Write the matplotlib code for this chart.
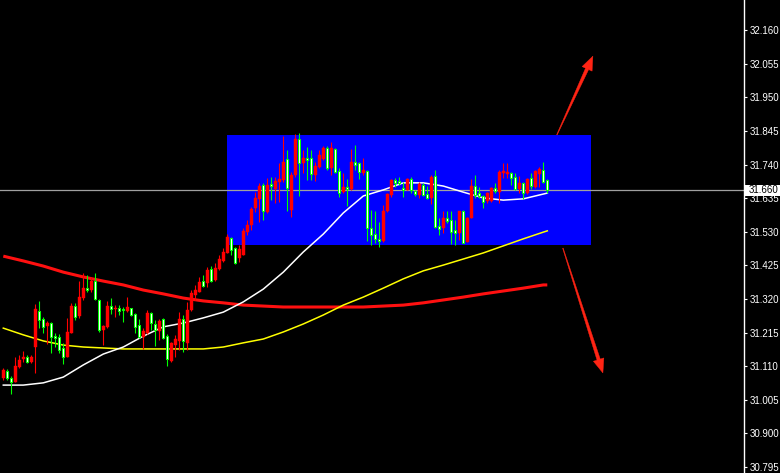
import matplotlib
matplotlib.use("Agg")
import matplotlib.pyplot as plt
import numpy as np
from matplotlib.patches import Rectangle, Polygon

# ---- OHLC series (one entry per bar) ----
opens = [31.073, 31.095, 31.073, 31.061, 31.108, 31.133, 31.139, 31.123, 31.170, 31.283,
         31.258, 31.236, 31.245, 31.204, 31.201, 31.167, 31.139, 31.214, 31.298, 31.267,
         31.323, 31.354, 31.348, 31.376, 31.317, 31.223, 31.233, 31.298, 31.289, 31.292,
         31.289, 31.283, 31.292, 31.273, 31.239, 31.201, 31.214, 31.276, 31.242, 31.220,
         31.258, 31.204, 31.126, 31.176, 31.189, 31.258, 31.183, 31.286, 31.333, 31.342,
         31.376, 31.370, 31.414, 31.379, 31.414, 31.439, 31.464, 31.511, 31.479, 31.448,
         31.458, 31.529, 31.551, 31.604, 31.633, 31.676, 31.592, 31.679, 31.664, 31.686,
         31.692, 31.758, 31.598, 31.708, 31.820, 31.745, 31.761, 31.761, 31.708, 31.733,
         31.758, 31.792, 31.729, 31.789, 31.720, 31.654, 31.670, 31.664, 31.748, 31.745,
         31.714, 31.720, 31.542, 31.523, 31.508, 31.501, 31.595, 31.645, 31.692, 31.689,
         31.667, 31.661, 31.695, 31.658, 31.645, 31.676, 31.648, 31.636, 31.704, 31.548,
         31.542, 31.573, 31.567, 31.536, 31.526, 31.595, 31.498, 31.573, 31.673, 31.651,
         31.642, 31.626, 31.626, 31.667, 31.654, 31.714, 31.711, 31.714, 31.701, 31.664,
         31.683, 31.651, 31.698, 31.670, 31.711, 31.723, 31.692]
highs = [31.104, 31.101, 31.079, 31.139, 31.145, 31.158, 31.145, 31.145, 31.304, 31.314,
         31.264, 31.251, 31.248, 31.214, 31.211, 31.183, 31.261, 31.308, 31.308, 31.376,
         31.401, 31.395, 31.389, 31.401, 31.320, 31.239, 31.314, 31.323, 31.301, 31.301,
         31.295, 31.326, 31.292, 31.276, 31.258, 31.229, 31.286, 31.279, 31.254, 31.258,
         31.261, 31.211, 31.186, 31.208, 31.279, 31.270, 31.311, 31.348, 31.364, 31.389,
         31.395, 31.420, 31.423, 31.433, 31.458, 31.479, 31.523, 31.514, 31.483, 31.489,
         31.542, 31.567, 31.608, 31.654, 31.683, 31.683, 31.698, 31.701, 31.701, 31.745,
         31.829, 31.786, 31.717, 31.836, 31.839, 31.786, 31.795, 31.786, 31.748, 31.786,
         31.798, 31.798, 31.811, 31.792, 31.729, 31.714, 31.695, 31.789, 31.801, 31.748,
         31.761, 31.723, 31.598, 31.595, 31.561, 31.614, 31.651, 31.695, 31.698, 31.701,
         31.686, 31.698, 31.701, 31.661, 31.686, 31.683, 31.673, 31.708, 31.723, 31.573,
         31.595, 31.595, 31.595, 31.567, 31.595, 31.598, 31.576, 31.695, 31.708, 31.670,
         31.645, 31.654, 31.670, 31.683, 31.723, 31.745, 31.745, 31.717, 31.714, 31.704,
         31.686, 31.698, 31.714, 31.723, 31.733, 31.748, 31.695]
lows = [31.067, 31.067, 31.023, 31.061, 31.104, 31.123, 31.120, 31.120, 31.089, 31.229,
        31.214, 31.179, 31.151, 31.170, 31.151, 31.117, 31.139, 31.214, 31.254, 31.261,
        31.317, 31.342, 31.342, 31.317, 31.217, 31.176, 31.229, 31.273, 31.264, 31.270,
        31.248, 31.279, 31.267, 31.214, 31.198, 31.164, 31.211, 31.223, 31.173, 31.192,
        31.195, 31.111, 31.123, 31.139, 31.161, 31.154, 31.161, 31.283, 31.317, 31.342,
        31.358, 31.358, 31.373, 31.376, 31.411, 31.436, 31.464, 31.458, 31.429, 31.436,
        31.458, 31.520, 31.536, 31.592, 31.561, 31.567, 31.589, 31.629, 31.620, 31.623,
        31.686, 31.595, 31.576, 31.701, 31.642, 31.714, 31.692, 31.692, 31.689, 31.729,
        31.754, 31.723, 31.708, 31.714, 31.639, 31.651, 31.611, 31.661, 31.723, 31.695,
        31.708, 31.501, 31.489, 31.495, 31.483, 31.498, 31.592, 31.639, 31.670, 31.676,
        31.639, 31.661, 31.651, 31.642, 31.636, 31.642, 31.633, 31.617, 31.542, 31.520,
        31.526, 31.558, 31.492, 31.489, 31.504, 31.495, 31.498, 31.573, 31.636, 31.636,
        31.604, 31.620, 31.623, 31.651, 31.620, 31.698, 31.698, 31.676, 31.661, 31.651,
        31.633, 31.648, 31.664, 31.667, 31.670, 31.683, 31.651]
closes = [31.098, 31.073, 31.061, 31.111, 31.129, 31.139, 31.123, 31.139, 31.289, 31.254,
          31.233, 31.245, 31.201, 31.198, 31.161, 31.139, 31.217, 31.298, 31.264, 31.326,
          31.354, 31.348, 31.376, 31.320, 31.223, 31.236, 31.298, 31.289, 31.292, 31.283,
          31.286, 31.295, 31.270, 31.233, 31.201, 31.220, 31.276, 31.245, 31.223, 31.251,
          31.198, 31.133, 31.183, 31.195, 31.258, 31.189, 31.286, 31.339, 31.348, 31.373,
          31.361, 31.411, 31.376, 31.417, 31.445, 31.467, 31.514, 31.473, 31.433, 31.476,
          31.533, 31.551, 31.601, 31.636, 31.673, 31.595, 31.676, 31.673, 31.689, 31.695,
          31.748, 31.667, 31.708, 31.820, 31.745, 31.761, 31.754, 31.711, 31.736, 31.770,
          31.792, 31.729, 31.792, 31.717, 31.651, 31.670, 31.664, 31.748, 31.739, 31.717,
          31.723, 31.542, 31.520, 31.508, 31.501, 31.595, 31.648, 31.692, 31.683, 31.683,
          31.661, 31.695, 31.661, 31.648, 31.679, 31.645, 31.636, 31.701, 31.545, 31.539,
          31.573, 31.564, 31.529, 31.526, 31.595, 31.495, 31.573, 31.673, 31.645, 31.642,
          31.623, 31.651, 31.667, 31.658, 31.717, 31.720, 31.717, 31.698, 31.664, 31.683,
          31.651, 31.695, 31.673, 31.720, 31.726, 31.686, 31.660]

# ---- moving averages, sampled every 5 bars ----
ma_bars = list(range(0, 136, 5)) + [136]
ma_fast = [31.051, 31.051, 31.058, 31.076, 31.114, 31.148, 31.170, 31.204, 31.233, 31.245,
           31.261, 31.279, 31.311, 31.351, 31.404, 31.467, 31.523, 31.589, 31.642, 31.661,
           31.683, 31.683, 31.673, 31.654, 31.636, 31.629, 31.633, 31.648, 31.651]
ma_mid = [31.229, 31.208, 31.189, 31.176, 31.170, 31.167, 31.164, 31.164, 31.164, 31.164,
          31.164, 31.170, 31.183, 31.195, 31.217, 31.242, 31.270, 31.301, 31.326, 31.354,
          31.383, 31.408, 31.426, 31.445, 31.464, 31.486, 31.508, 31.529, 31.533]
ma_slow = [31.454, 31.439, 31.423, 31.404, 31.389, 31.376, 31.364, 31.348, 31.336, 31.323,
           31.314, 31.308, 31.301, 31.298, 31.295, 31.295, 31.295, 31.295, 31.295, 31.298,
           31.301, 31.308, 31.317, 31.326, 31.336, 31.345, 31.354, 31.364, 31.364]

price_ticks = [30.795, 30.900, 31.005, 31.110, 31.215, 31.320, 31.425, 31.530,
               31.635, 31.740, 31.845, 31.950, 32.055, 32.160]
top_tick = 32.265
last_price = 31.660

# consolidation zone (bar range, price range) and breakout arrows
zone_bars = (55.9, 146.9)
zone_prices = (31.489, 31.833)
arrow_up = ((138.4, 31.833), (147.4, 32.079))
arrow_down = ((139.9, 31.479), (149.9, 31.089))

UP = "#ff0000"
DOWN = "#00ff00"
ARROW = "#ff2414"

W, H, DPI = 780, 473, 100
fig = plt.figure(figsize=(W / DPI, H / DPI), dpi=DPI, facecolor="black")
ax = fig.add_axes([0, 0, 744 / W, 1])
ax.set_facecolor("black")
ax.set_xlim(-0.825, 185.175)
ax.set_ylim(30.7763, 32.2544)

# zone box
ax.add_patch(Rectangle((zone_bars[0], zone_prices[0]), zone_bars[1] - zone_bars[0],
                       zone_prices[1] - zone_prices[0], facecolor="#0000ff",
                       edgecolor="none", zorder=1))

# current price line
ax.axhline(last_price, color="#a0a0a0", lw=0.9, zorder=2)

# moving averages
ax.plot(ma_bars, ma_slow, color="#ff1010", lw=2.2, zorder=3, solid_capstyle="butt")
ax.plot(ma_bars, ma_mid, color="#ffff00", lw=1.1, zorder=3)
ax.plot(ma_bars, ma_fast, color="#ffffff", lw=1.1, zorder=3)

# candles
min_body = 0.0025
for i, (o, h, l, c) in enumerate(zip(opens, highs, lows, closes)):
    top, bot = max(o, c), min(o, c)
    if bot == top:
        bot -= min_body / 2
        top += min_body / 2
    if c >= o:
        ax.vlines(i, l, h, color=UP, lw=0.8, zorder=4)
        ax.add_patch(Rectangle((i - 0.37, bot), 0.74, max(top - bot, min_body),
                               facecolor=UP, edgecolor=UP, lw=0.3, zorder=5))
    else:
        ax.vlines(i, l, h, color=DOWN, lw=0.8, zorder=4)
        ax.add_patch(Rectangle((i - 0.27, bot), 0.54, max(top - bot, min_body),
                               facecolor="white", edgecolor=DOWN, lw=0.75, zorder=5))


def tapered_arrow(start, tip, head_len=14, head_half=5.5, tail_half=0.3, neck_half=1.7):
    p0 = ax.transData.transform(start)
    p1 = ax.transData.transform(tip)
    d = p1 - p0
    L = np.hypot(*d)
    u = d / L
    n = np.array([-u[1], u[0]])
    base = p1 - u * head_len
    pts = [p0 + n * tail_half, base + n * neck_half, base + n * head_half, p1,
           base - n * head_half, base - n * neck_half, p0 - n * tail_half]
    pts = ax.transData.inverted().transform(np.array(pts))
    ax.add_patch(Polygon(pts, closed=True, facecolor=ARROW, edgecolor=ARROW,
                         lw=0.3, zorder=6))


tapered_arrow(*arrow_up)
tapered_arrow(*arrow_down)

# axis styling
for side in ("left", "top", "bottom"):
    ax.spines[side].set_visible(False)
ax.spines["right"].set_color("white")
ax.spines["right"].set_linewidth(1.0)
ax.set_xticks([])
ax.yaxis.tick_right()
ax.set_yticks(price_ticks)
ax.set_yticklabels([f"{t:.3f}" for t in price_ticks])
ax.tick_params(axis="y", colors="white", length=2.5, width=0.8, pad=1.5,
               labelsize=7, labelcolor="white")
for lab in ax.get_yticklabels():
    lab.set_family("Liberation Sans")

ax.annotate(f"{top_tick:.3f}", xy=(1, top_tick), xycoords=("axes fraction", "data"),
            xytext=(4, 0), textcoords="offset points", va="center", ha="left",
            color="white", fontsize=7, family="Liberation Sans", annotation_clip=False)

# current price tag
y_pix = ax.transData.transform((0, last_price))[1]
fig.patches.append(Rectangle((745 / W, (y_pix - 5.5) / H), 35 / W, 11 / H,
                             transform=fig.transFigure, facecolor="white",
                             edgecolor="none", zorder=10))
fig.text(749 / W, y_pix / H, f"{last_price:.3f}", color="black", fontsize=7,
         family="Liberation Sans", va="center", ha="left", zorder=11)

fig.savefig("out.png", dpi=DPI, facecolor="black")
